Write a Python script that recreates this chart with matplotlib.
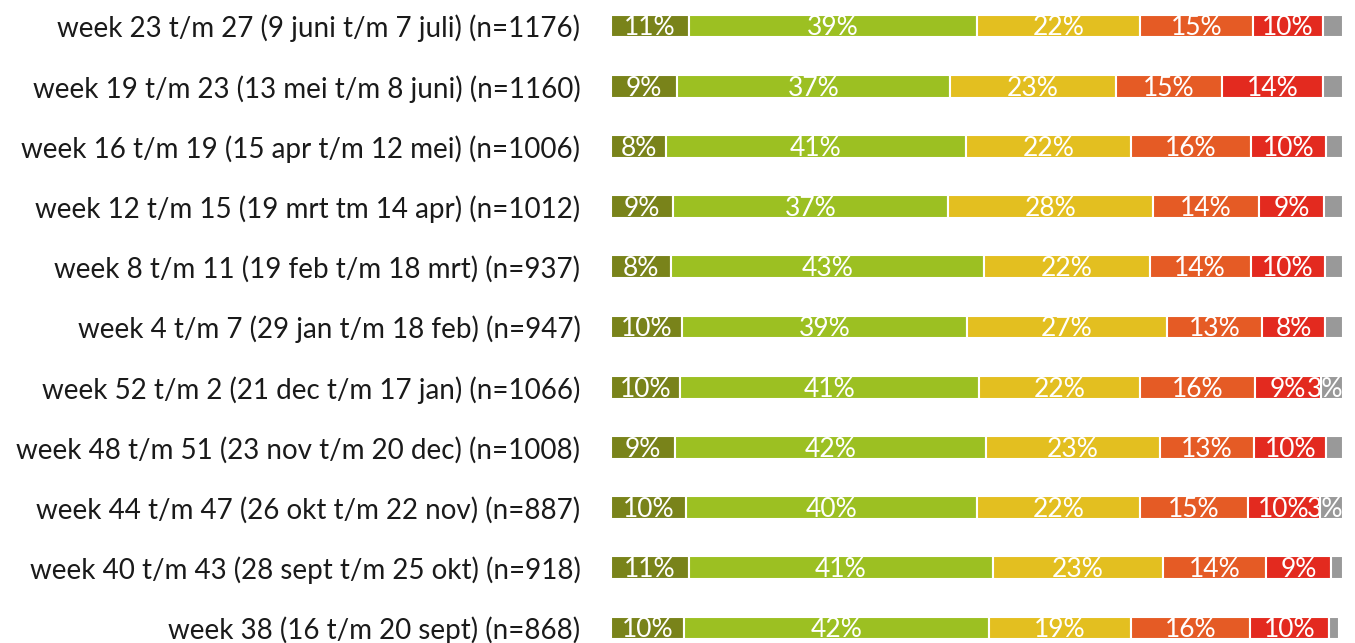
import numpy as np
import matplotlib
matplotlib.use("Agg")
import matplotlib.pyplot as plt

plt.rcParams['font.family'] = ['Lato', 'DejaVu Sans']

periods = [
    "week 23 t/m 27 (9 juni t/m 7 juli) (n=1176)",
    "week 19 t/m 23 (13 mei t/m 8 juni) (n=1160)",
    "week 16 t/m 19 (15 apr t/m 12 mei) (n=1006)",
    "week 12 t/m 15 (19 mrt tm 14 apr) (n=1012)",
    "week 8 t/m 11 (19 feb t/m 18 mrt) (n=937)",
    "week 4 t/m 7 (29 jan t/m 18 feb) (n=947)",
    "week 52 t/m 2 (21 dec t/m 17 jan) (n=1066)",
    "week 48 t/m 51 (23 nov t/m 20 dec) (n=1008)",
    "week 44 t/m 47 (26 okt t/m 22 nov) (n=887)",
    "week 40 t/m 43 (28 sept t/m 25 okt) (n=918)",
    "week 38 (16 t/m 20 sept) (n=868)",
]

# estimated shares per answer category (top row first)
olive = [10.7, 9.0, 7.5, 8.5, 8.2, 9.7, 9.4, 8.8, 10.2, 10.6, 10.0]
green = [39.3, 37.3, 41.0, 37.5, 42.8, 39.0, 40.9, 42.4, 39.8, 41.6, 41.6]
yellow = [22.3, 22.7, 22.5, 28.1, 22.6, 27.2, 21.9, 23.8, 22.3, 23.2, 19.4]
orange = [15.4, 14.5, 16.4, 14.4, 13.8, 13.1, 15.8, 12.9, 14.7, 14.1, 16.3]
red = [9.6, 13.8, 10.3, 8.9, 10.2, 8.5, 9.0, 9.8, 9.9, 8.8, 10.8]
gray = [2.7, 2.7, 2.3, 2.6, 2.4, 2.5, 3.0, 2.3, 3.1, 1.7, 1.3]

# printed labels
olive_lbl = ["11%", "9%", "8%", "9%", "8%", "10%", "10%", "9%", "10%", "11%", "10%"]
green_lbl = ["39%", "37%", "41%", "37%", "43%", "39%", "41%", "42%", "40%", "41%", "42%"]
yellow_lbl = ["22%", "23%", "22%", "28%", "22%", "27%", "22%", "23%", "22%", "23%", "19%"]
orange_lbl = ["15%", "15%", "16%", "14%", "14%", "13%", "16%", "13%", "15%", "14%", "16%"]
red_lbl = ["10%", "14%", "10%", "9%", "10%", "8%", "9%", "10%", "10%", "9%", "10%"]
gray_lbl = ["", "", "", "", "", "", "3%", "", "3%", "", ""]

series = [olive, green, yellow, orange, red, gray]
labels = [olive_lbl, green_lbl, yellow_lbl, orange_lbl, red_lbl, gray_lbl]
colors = ["#79831a", "#9cc022", "#e3bf20", "#e55b25", "#e32a1f", "#999999"]

fig = plt.figure(figsize=(13.55, 6.43), dpi=100)
ax = fig.add_axes([611 / 1355, 0, (1343 - 611) / 1355, 1])

y = np.arange(len(periods))
left = np.zeros(len(periods))
for k, (vals, lbls, c) in enumerate(zip(series, labels, colors)):
    vals = np.array(vals)
    ax.barh(y, vals, left=left, height=0.38, color=c, edgecolor="white", linewidth=1.5)
    for i in range(len(y)):
        if not lbls[i]:
            continue
        if k == len(series) - 1:
            # small last segment: label sticks out to the left
            ax.text(left[i] + vals[i], y[i] + 0.03, lbls[i], ha="right", va="center",
                    color="white", fontsize=19, zorder=5)
        else:
            ax.text(left[i] + vals[i] / 2, y[i] + 0.03, lbls[i], ha="center", va="center",
                    color="white", fontsize=19)
    left = left + vals

ax.set_xlim(0, left.max())
ax.set_ylim(10.249, -0.432)
ax.set_yticks(y)
ax.set_yticklabels(periods, fontsize=20, color="#1a1a1a")
ax.tick_params(axis="y", length=0, pad=22)
ax.set_xticks([])
for s in ax.spines.values():
    s.set_visible(False)

fig.savefig("out.png", dpi=100)
